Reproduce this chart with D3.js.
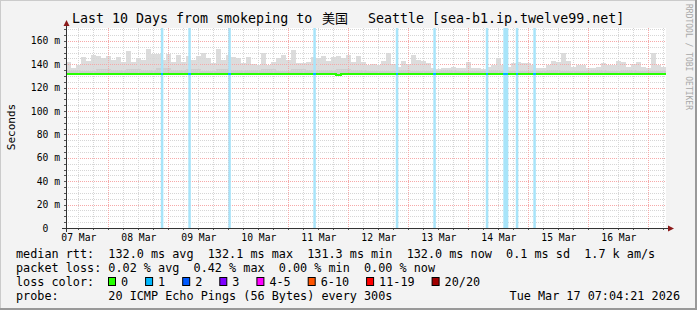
<!DOCTYPE html>
<html>
<head>
<meta charset="utf-8">
<script src="https://cdn.jsdelivr.net/npm/d3@7"></script>
<style>
body { margin: 0; background: #fff; }
svg { display: block; }
text { font-family: "DejaVu Sans Mono", monospace; fill: #000; white-space: pre; }
</style>
</head>
<body>
<div id="chart"></div>
<script>
// time window (UTC so the sandbox timezone does not matter)
var start = new Date(Date.UTC(2026, 2, 7, 7, 4, 21));
var end = new Date(Date.UTC(2026, 2, 17, 7, 4, 21));

// smoke: upper edge per 2 hour bucket (ms)
var smokeTop = [
    142, 137, 139, 146, 143, 148, 147, 145, 147, 144,
    146, 142, 151, 142, 145, 144, 153, 149, 149, 144,
    149, 142, 148, 142, 147, 144, 147, 150, 145, 141,
    153, 144, 148, 146, 145, 141, 146, 140, 139, 150,
    139, 142, 145, 148, 144, 152, 141, 141, 142, 146,
    145, 147, 143, 146, 147, 145, 148, 142, 147, 142,
    139, 140, 139, 143, 150, 140, 138, 143, 140, 148,
    144, 143, 141, 137, 136, 137, 137, 138, 137, 137,
    142, 137, 137, 136, 138, 139, 145, 139, 138, 141,
    142, 141, 141, 139, 137, 137, 139, 143, 142, 150,
    143, 138, 139, 139, 137, 137, 138, 141, 139, 139,
    143, 142, 138, 140, 142, 138, 137, 150, 139, 138
];
// denser smoke band near the median, per 6 hour bucket (ms)
var smokeMid = [
    135, 134, 136, 135, 136, 135, 137, 135, 136, 134,
    136, 135, 135, 136, 134, 136, 135, 135, 136, 135,
    134, 134, 135, 134, 134, 135, 134, 134, 135, 134,
    134, 134, 135, 134, 134, 135, 134, 135, 134, 134
];
var smokeFloor = 130.6;

// median rtt per 2 hour bucket (ms)
var median = [
    132.0, 132.0, 132.0, 132.0, 132.0, 132.0, 132.0, 132.0, 132.0, 132.0,
    132.0, 132.0, 132.0, 132.0, 132.0, 132.0, 132.0, 132.0, 132.0, 132.0,
    132.0, 132.0, 132.0, 132.0, 132.0, 132.0, 132.0, 132.0, 132.0, 132.0,
    132.0, 132.0, 132.0, 132.0, 132.0, 132.0, 132.0, 132.0, 132.0, 132.0,
    132.0, 132.0, 132.0, 132.0, 132.0, 132.0, 132.0, 132.0, 132.0, 132.0,
    132.0, 132.0, 132.0, 132.0, 131.3, 132.0, 132.0, 132.0, 132.0, 132.0,
    132.0, 132.0, 132.0, 132.0, 132.0, 132.0, 132.0, 132.0, 132.0, 132.0,
    132.0, 132.0, 132.0, 132.0, 132.0, 132.0, 132.0, 132.0, 132.0, 132.0,
    132.0, 132.0, 132.0, 132.0, 132.0, 132.0, 132.0, 132.0, 132.0, 132.0,
    132.0, 132.0, 132.0, 132.0, 132.0, 132.0, 132.0, 132.0, 132.0, 132.0,
    132.0, 132.0, 132.0, 132.0, 132.0, 132.0, 132.0, 132.0, 132.0, 132.0,
    132.0, 132.0, 132.0, 132.0, 132.0, 132.0, 132.0, 132.0, 132.0, 132.0
];

// loss events: start (UTC), length in hours, pings lost of 20
var lossStarts = ['2026-03-08T21:00Z', '2026-03-09T08:00Z', '2026-03-10T00:00Z', '2026-03-11T10:00Z',
    '2026-03-12T19:00Z', '2026-03-13T10:00Z', '2026-03-14T07:00Z', '2026-03-14T14:00Z',
    '2026-03-14T19:00Z', '2026-03-15T02:00Z'];
var lossHours = [1, 1, 1, 1, 1, 1, 1, 2, 1, 1];
var lossCount = [1, 1, 1, 1, 1, 1, 1, 1, 1, 1];

var yTicks = [0, 20, 40, 60, 80, 100, 120, 140, 160];
var dayLabels = ['07 Mar', '08 Mar', '09 Mar', '10 Mar', '11 Mar', '12 Mar', '13 Mar', '14 Mar', '15 Mar', '16 Mar'];

var lossLabels = ['0', '1', '2', '3', '4-5', '6-10', '11-19', '20/20'];
var lossColors = ['#26ff00', '#00b8ff', '#0059ff', '#7e00ff', '#ff00ff', '#ff5500', '#ff0000', '#a10000'];
var lossBack = ['#ffffff', '#a8e4f9', '#a8c4ff', '#d4a8ff', '#ffa8ff', '#ffc4a8', '#ffa8a8', '#e0a8a8'];

var W = 697, H = 310;
var gLeft = 66, gRight = 666, gTop = 28, gBottom = 228;

var svg = d3.select('#chart').append('svg')
    .attr('width', W)
    .attr('height', H);

// background + 3d border
svg.append('rect').attr('width', W).attr('height', H).attr('fill', '#f3f3f3');
svg.append('path').attr('d', 'M0,' + H + 'V0H' + W).attr('fill', 'none').attr('stroke', '#cbcbcb').attr('stroke-width', 2);
svg.append('path').attr('d', 'M0,' + (H - 1) + 'H' + (W - 1) + 'V0').attr('fill', 'none').attr('stroke', '#999').attr('stroke-width', 2);

var x = d3.scaleUtc().domain([start, end]).range([gLeft, gRight]);
var y = d3.scaleLinear().domain([0, 171]).range([gBottom, gTop]);

// pixel-snapped y for the 2px median line
function yLine(v) {
    return Math.floor(y(v)) + 1;
}

svg.append('rect')
    .attr('x', gLeft).attr('y', gTop)
    .attr('width', gRight - gLeft).attr('height', gBottom - gTop)
    .attr('fill', '#fff');

var plot = svg.append('g');

function bucketStart(i, hours) {
    return new Date(start.getTime() + i * hours * 3600e3);
}

// smoke outer
plot.selectAll('rect.smoke')
    .data(smokeTop)
    .enter()
    .append('rect')
    .attr('class', 'smoke')
    .attr('x', function (d, i) { return x(bucketStart(i, 2)); })
    .attr('width', function (d, i) { return x(bucketStart(i + 1, 2)) - x(bucketStart(i, 2)); })
    .attr('y', function (d) { return y(d); })
    .attr('height', function (d) { return y(smokeFloor) - y(d); })
    .attr('fill', '#dcdcdc')
    .attr('shape-rendering', 'crispEdges');

plot.selectAll('rect.smokemid')
    .data(smokeMid)
    .enter()
    .append('rect')
    .attr('class', 'smokemid')
    .attr('x', function (d, i) { return x(bucketStart(i, 6)); })
    .attr('width', function (d, i) { return x(bucketStart(i + 1, 6)) - x(bucketStart(i, 6)); })
    .attr('y', function (d) { return y(d); })
    .attr('height', function (d) { return y(smokeFloor) - y(d); })
    .attr('fill', '#cfcfcf')
    .attr('shape-rendering', 'crispEdges');

// grid
var hGrid = d3.range(5, 171, 5);
var vMinor = d3.utcHour.every(6).range(start, end);
var vMajor = d3.utcDay.range(start, end);

plot.selectAll('line.hg')
    .data(hGrid)
    .enter()
    .append('line')
    .attr('x1', gLeft).attr('x2', gRight)
    .attr('y1', function (d) { return Math.round(y(d)) + 0.5; })
    .attr('y2', function (d) { return Math.round(y(d)) + 0.5; })
    .attr('stroke', function (d) { return d % 20 === 0 ? '#f6a9a9' : '#d6d6d6'; })
    .attr('stroke-dasharray', '1,1');

plot.selectAll('line.vg')
    .data(vMinor.filter(function (d) { return d.getUTCHours() !== 0; }))
    .enter()
    .append('line')
    .attr('y1', gTop).attr('y2', gBottom)
    .attr('x1', function (d) { return Math.round(x(d)) + 0.5; })
    .attr('x2', function (d) { return Math.round(x(d)) + 0.5; })
    .attr('stroke', '#d6d6d6')
    .attr('stroke-dasharray', '1,1');

plot.selectAll('line.vmg')
    .data(vMajor)
    .enter()
    .append('line')
    .attr('y1', gTop).attr('y2', gBottom)
    .attr('x1', function (d) { return Math.round(x(d)) + 0.5; })
    .attr('x2', function (d) { return Math.round(x(d)) + 0.5; })
    .attr('stroke', '#f6a9a9')
    .attr('stroke-dasharray', '1,1');

// loss bars
var losses = lossStarts.map(function (s, i) {
    var t0 = new Date(s);
    return {t0: t0, t1: new Date(t0.getTime() + lossHours[i] * 3600e3), n: lossCount[i]};
});

function lossIndex(n) {
    if (n <= 3) return n;
    if (n <= 5) return 4;
    if (n <= 10) return 5;
    if (n <= 19) return 6;
    return 7;
}

plot.selectAll('rect.loss')
    .data(losses)
    .enter()
    .append('rect')
    .attr('x', function (d) { return x(d.t0); })
    .attr('width', function (d) { return x(d.t1) - x(d.t0); })
    .attr('y', gTop)
    .attr('height', gBottom - gTop)
    .attr('fill', function (d) { return lossBack[lossIndex(d.n)]; });

// median line (step)
var medPts = median.map(function (d, i) { return {t: bucketStart(i, 2), v: d}; });
medPts.push({t: end, v: median[median.length - 1]});

var line = d3.line()
    .x(function (d) { return x(d.t); })
    .y(function (d) { return yLine(d.v); })
    .curve(d3.curveStepAfter);

plot.append('path')
    .datum(medPts)
    .attr('d', line)
    .attr('fill', 'none')
    .attr('stroke', lossColors[0])
    .attr('stroke-width', 2)
    .attr('shape-rendering', 'crispEdges');

plot.selectAll('line.lossmed')
    .data(losses)
    .enter()
    .append('line')
    .attr('x1', function (d) { return x(d.t0); })
    .attr('x2', function (d) { return x(d.t1); })
    .attr('y1', function (d) { return yLine(132.0); })
    .attr('y2', function (d) { return yLine(132.0); })
    .attr('stroke', function (d) { return lossColors[lossIndex(d.n)]; })
    .attr('stroke-width', 2)
    .attr('shape-rendering', 'crispEdges');

// axes lines with arrows
var ax = svg.append('g');
ax.selectAll('line.ytick')
    .data(hGrid.concat([0]))
    .enter()
    .append('line')
    .attr('x1', gLeft - 2).attr('x2', gLeft)
    .attr('y1', function (d) { return Math.round(y(d)) + 0.5; })
    .attr('y2', function (d) { return Math.round(y(d)) + 0.5; })
    .attr('stroke', '#555');
ax.selectAll('line.xtick')
    .data(vMinor)
    .enter()
    .append('line')
    .attr('y1', gBottom).attr('y2', gBottom + 2)
    .attr('x1', function (d) { return Math.round(x(d)) + 0.5; })
    .attr('x2', function (d) { return Math.round(x(d)) + 0.5; })
    .attr('stroke', '#555');

ax.append('line').attr('x1', gLeft + 0.5).attr('x2', gLeft + 0.5).attr('y1', gBottom + 4).attr('y2', 24).attr('stroke', '#333');
ax.append('line').attr('x1', gLeft - 4).attr('x2', 669).attr('y1', gBottom + 0.5).attr('y2', gBottom + 0.5).attr('stroke', '#333');
ax.append('path').attr('d', 'M' + (gLeft + 0.5) + ',20L' + (gLeft + 3.5) + ',26L' + (gLeft - 2.5) + ',26Z').attr('fill', '#8b1a1a');
ax.append('path').attr('d', 'M674,' + (gBottom + 0.5) + 'L668,' + (gBottom - 2.5) + 'L668,' + (gBottom + 3.5) + 'Z').attr('fill', '#8b1a1a');

// y axis labels
var yAxis = d3.axisLeft(y)
    .tickValues(yTicks)
    .tickSize(0)
    .tickPadding(6)
    .tickFormat(function (d) { return d === 0 ? '0\u00a0\u00a0' : d + ' m'; });

svg.append('g')
    .attr('transform', 'translate(' + gLeft + ',0)')
    .call(yAxis)
    .call(function (g) { g.select('.domain').remove(); })
    .selectAll('text')
    .attr('font-family', '"DejaVu Sans Mono", monospace')
    .attr('font-size', '9.7px')
    .attr('fill', '#000');

// x axis labels, centred on noon of each day
var noonTicks = d3.utcDay.range(d3.utcDay.floor(start), end).map(function (d) {
    return d3.utcHour.offset(d, 12);
});
var xAxis = d3.axisBottom(x)
    .tickValues(noonTicks)
    .tickSize(0)
    .tickFormat(function (d, i) { return dayLabels[i]; });

svg.append('g')
    .attr('transform', 'translate(0,' + gBottom + ')')
    .call(xAxis)
    .call(function (g) { g.select('.domain').remove(); })
    .selectAll('text')
    .attr('y', 12.5)
    .attr('dy', null)
    .attr('font-family', '"DejaVu Sans Mono", monospace')
    .attr('font-size', '9.7px')
    .attr('fill', '#000');

// unit label
svg.append('text')
    .attr('transform', 'translate(14.5,127) rotate(-90)')
    .attr('text-anchor', 'middle')
    .attr('font-size', '11px')
    .text('Seconds');

// title
var title = svg.append('text').attr('y', 23).attr('font-size', '13.3px');
title.append('tspan').attr('x', 72).text('Last 10 Days from smokeping to ');
title.append('tspan').attr('x', 322).attr('font-family', '"Noto Sans CJK SC", sans-serif').attr('font-size', '13px').text('美国');
title.append('tspan').attr('x', 360).text(' Seattle [sea-b1.ip.twelve99.net]');

// watermark
svg.append('text')
    .attr('transform', 'translate(686,4) rotate(90)')
    .attr('font-size', '8px')
    .style('fill', '#a8a8a8')
    .text('RRDTOOL / TOBI OETIKER');

// legend
var fs = '11.8px', cw = 7.1;
var rows = [
    'median rtt:  132.0 ms avg  132.1 ms max  131.3 ms min  132.0 ms now  0.1 ms sd  1.7 k am/s',
    'packet loss: 0.02 % avg  0.42 % max  0.00 % min  0.00 % now',
    'loss color:',
    'probe:       20 ICMP Echo Pings (56 Bytes) every 300s'
];
var rowY = [257.5, 271.8, 286, 300.2];
svg.selectAll('text.leg')
    .data(rows)
    .enter()
    .append('text')
    .attr('x', 16)
    .attr('y', function (d, i) { return rowY[i]; })
    .attr('font-size', fs)
    .text(function (d) { return d; });

svg.append('text')
    .attr('x', 680)
    .attr('y', rowY[3])
    .attr('text-anchor', 'end')
    .attr('font-size', fs)
    .text('Tue Mar 17 07:04:21 2026');

var lx = 108;
lossLabels.forEach(function (lab, i) {
    svg.append('rect')
        .attr('x', lx + 0.5).attr('y', 277.5)
        .attr('width', 7).attr('height', 8)
        .attr('fill', lossColors[i])
        .attr('stroke', '#000');
    svg.append('text')
        .attr('x', lx + 13)
        .attr('y', rowY[2])
        .attr('font-size', fs)
        .text(lab);
    lx = lx + 13 + lab.length * cw + 17;
});
</script>
</body>
</html>
